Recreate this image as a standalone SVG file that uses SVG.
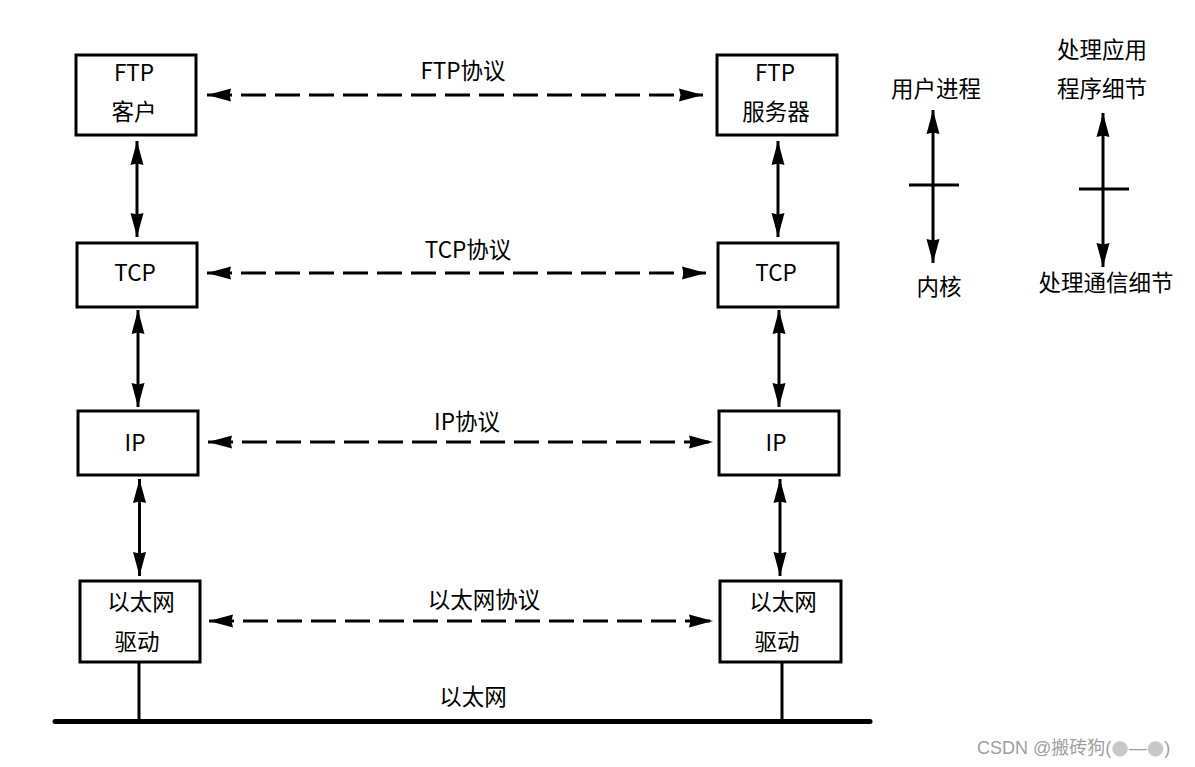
<svg xmlns="http://www.w3.org/2000/svg" width="1195" height="767" viewBox="0 0 1195 767">
<style>
.box{fill:#fff;stroke:#000;stroke-width:3}
.t{font-family:"Noto Sans CJK SC","Noto Sans",sans-serif;font-size:22.5px;fill:#000;text-anchor:middle}
.v{stroke:#000;stroke-width:3;fill:none;marker-start:url(#ah);marker-end:url(#ah)}
.d{stroke:#000;stroke-width:3;fill:none;stroke-dasharray:25 9;marker-start:url(#ah);marker-end:url(#ah)}
.s{stroke:#000;stroke-width:3;fill:none}
.wm{font-family:"Liberation Sans","Noto Sans CJK SC",sans-serif;font-size:18px;fill:#a0a0a0}
.c{font-family:"DejaVu Sans",sans-serif;font-size:20px;fill:#c8c8c8}
</style>
<defs>
<marker id="ah" markerUnits="userSpaceOnUse" viewBox="0 0 24 14" markerWidth="24" markerHeight="14" refX="24" refY="7" orient="auto-start-reverse">
<path d="M0,0.5 L24,7 L0,13.5 L1.5,7 z" fill="#000"/>
</marker>
</defs>
<rect width="1195" height="767" fill="#fff"/>

<g id="ftp-client">
<rect class="box" x="76" y="55" width="120" height="80"/>
<text class="t" x="134" y="81">FTP</text>
<text class="t" x="134" y="120">客户</text>
</g>
<g id="tcp-left">
<rect class="box" x="77" y="243" width="120" height="64"/>
<text class="t" x="135" y="281">TCP</text>
</g>
<g id="ip-left">
<rect class="box" x="78" y="411" width="120" height="64"/>
<text class="t" x="135" y="451">IP</text>
</g>
<g id="eth-left">
<rect class="box" x="80" y="581" width="120" height="81"/>
<text class="t" x="141" y="610">以太网</text>
<text class="t" x="137" y="650">驱动</text>
</g>

<g id="ftp-server">
<rect class="box" x="717" y="55" width="120" height="80"/>
<text class="t" x="775" y="81">FTP</text>
<text class="t" x="776" y="120">服务器</text>
</g>
<g id="tcp-right">
<rect class="box" x="718" y="243" width="120" height="64"/>
<text class="t" x="776" y="281">TCP</text>
</g>
<g id="ip-right">
<rect class="box" x="719" y="411" width="120" height="64"/>
<text class="t" x="776" y="451">IP</text>
</g>
<g id="eth-right">
<rect class="box" x="720" y="581" width="121" height="81"/>
<text class="t" x="783" y="610">以太网</text>
<text class="t" x="777" y="650">驱动</text>
</g>

<g id="connectors">
<line class="v" x1="137" y1="141" x2="137" y2="237"/>
<line class="v" x1="138" y1="310" x2="138" y2="407"/>
<line class="v" x1="139.5" y1="479" x2="139.5" y2="576"/>
<line class="v" x1="778" y1="141" x2="778" y2="237"/>
<line class="v" x1="779" y1="310" x2="779" y2="407"/>
<line class="v" x1="780" y1="479" x2="780" y2="576"/>

<line class="d" x1="207" y1="95" x2="703" y2="95"/>
<line class="d" x1="207" y1="273" x2="706" y2="273"/>
<line class="d" x1="208" y1="442" x2="713" y2="442"/>
<line class="d" x1="209" y1="621" x2="713" y2="621"/>

<line class="s" x1="139" y1="662" x2="139" y2="721"/>
<line class="s" x1="782" y1="662" x2="782" y2="721"/>
<line x1="55" y1="721.5" x2="870" y2="721.5" stroke="#000" stroke-width="5" stroke-linecap="round"/>

<line class="v" x1="933" y1="110" x2="933" y2="263"/>
<line class="s" x1="909" y1="185" x2="959" y2="185"/>
<line class="v" x1="1103" y1="113" x2="1103" y2="267"/>
<line class="s" x1="1079" y1="189" x2="1129" y2="189"/>
</g>

<g id="labels">
<text class="t" x="463" y="79">FTP协议</text>
<text class="t" x="468" y="258">TCP协议</text>
<text class="t" x="467" y="430">IP协议</text>
<text class="t" x="484" y="608">以太网协议</text>
<text class="t" x="473" y="705">以太网</text>
<text class="t" x="936" y="97">用户进程</text>
<text class="t" x="939" y="295">内核</text>
<text class="t" x="1102" y="58">处理应用</text>
<text class="t" x="1102" y="97">程序细节</text>
<text class="t" x="1106" y="291">处理通信细节</text>
</g>
<text class="wm" x="977" y="754">CSDN @搬砖狗(<tspan class="c">●</tspan>—<tspan class="c">●</tspan>)</text>
</svg>
